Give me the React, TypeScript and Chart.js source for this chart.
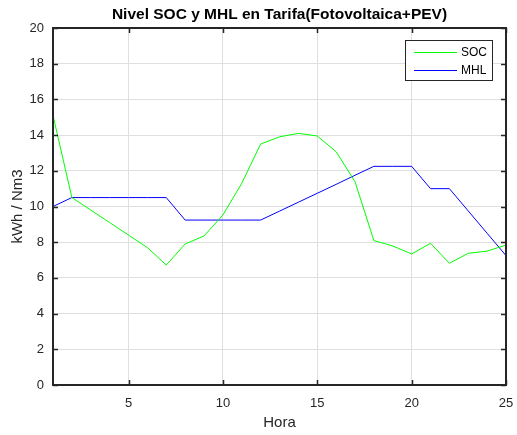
import React, { useEffect, useRef } from "react";
import { Chart, registerables } from "chart.js";

Chart.register(...registerables);

const titleText = "Nivel SOC y MHL en Tarifa(Fotovoltaica+PEV)";
const xLabel = "Hora";
const yLabel = "kWh / Nm3";
const hours = [1, 2, 3, 4, 5, 6, 7, 8, 9, 10, 11, 12, 13, 14, 15, 16, 17, 18, 19, 20, 21, 22, 23, 24, 25];
const socValues = [15.1, 10.5, 9.8, 9.1, 8.4, 7.7, 6.72, 7.9, 8.35, 9.52, 11.3, 13.5, 13.9, 14.1, 13.95, 13.07, 11.39, 8.09, 7.79, 7.34, 7.94, 6.82, 7.38, 7.5, 7.84];
const mhlValues = [10.0, 10.5, 10.5, 10.5, 10.5, 10.5, 10.5, 9.24, 9.24, 9.24, 9.24, 9.24, 9.74, 10.24, 10.74, 11.24, 11.75, 12.25, 12.25, 12.25, 11.0, 11.0, 9.75, 8.5, 7.25];
const xTicks = [5, 10, 15, 20, 25];
const seriesNames = ["SOC", "MHL"];
const seriesColors = ["#00ff00", "#0000ff"];

const FONT = "'Liberation Sans', Arial, Helvetica, sans-serif";
const AXIS = "#262626";

const decorPlugin = {
  id: "decor",
  afterDatasetsDraw(chart: any) {
    const { ctx, chartArea: a, scales } = chart;
    const xs = scales.x;
    const ys = scales.y;
    ctx.save();
    ctx.strokeStyle = AXIS;
    ctx.lineWidth = 2;
    ctx.strokeRect(a.left, a.top, a.right - a.left, a.bottom - a.top);
    ctx.lineWidth = 1.5;
    const tl = 5;
    ctx.beginPath();
    for (const t of xTicks) {
      const px = Math.round(xs.getPixelForValue(t)) + 0.5;
      ctx.moveTo(px, a.bottom);
      ctx.lineTo(px, a.bottom - tl);
      ctx.moveTo(px, a.top);
      ctx.lineTo(px, a.top + tl);
    }
    for (let v = 0; v <= 20; v += 2) {
      const py = Math.round(ys.getPixelForValue(v)) + 0.5;
      ctx.moveTo(a.left, py);
      ctx.lineTo(a.left + tl, py);
      ctx.moveTo(a.right, py);
      ctx.lineTo(a.right - tl, py);
    }
    ctx.stroke();

    ctx.fillStyle = "#000";
    ctx.font = `bold 15.5px ${FONT}`;
    ctx.textAlign = "center";
    ctx.textBaseline = "middle";
    ctx.fillText(titleText, (a.left + a.right) / 2, 15);

    ctx.fillStyle = AXIS;
    ctx.font = `15px ${FONT}`;
    ctx.fillText(xLabel, (a.left + a.right) / 2, 423);

    ctx.save();
    ctx.translate(18, (a.top + a.bottom) / 2);
    ctx.rotate(-Math.PI / 2);
    ctx.fillText(yLabel, 0, 0);
    ctx.restore();

    const lx = 405.5, ly = 40.5, lw = 87, lh = 40;
    ctx.fillStyle = "#fff";
    ctx.fillRect(lx, ly, lw, lh);
    ctx.strokeStyle = "#262626";
    ctx.lineWidth = 1;
    ctx.strokeRect(lx, ly, lw, lh);
    const rows = [52, 70];
    ctx.font = `12px ${FONT}`;
    ctx.textAlign = "left";
    ctx.textBaseline = "middle";
    seriesNames.forEach((name, i) => {
      ctx.strokeStyle = seriesColors[i];
      ctx.lineWidth = 1;
      ctx.beginPath();
      ctx.moveTo(414, rows[i] + 0.5);
      ctx.lineTo(457, rows[i] + 0.5);
      ctx.stroke();
      ctx.fillStyle = "#000";
      ctx.fillText(name, 461, rows[i] + 1);
    });
    ctx.restore();
  },
};

export default function App() {
  const ref = useRef<HTMLCanvasElement>(null);
  useEffect(() => {
    if (!ref.current) return;
    const chart = new Chart(ref.current, {
      type: "line",
      data: {
        datasets: [
          {
            label: seriesNames[0],
            data: hours.map((h, i) => ({ x: h, y: socValues[i] })),
            borderColor: seriesColors[0],
            backgroundColor: seriesColors[0],
            borderWidth: 1,
            pointRadius: 0,
            tension: 0,
          },
          {
            label: seriesNames[1],
            data: hours.map((h, i) => ({ x: h, y: mhlValues[i] })),
            borderColor: seriesColors[1],
            backgroundColor: seriesColors[1],
            borderWidth: 1,
            pointRadius: 0,
            tension: 0,
          },
        ],
      },
      options: {
        responsive: false,
        animation: false,
        layout: { padding: { left: 0, right: 11, top: 28, bottom: 0 } },
        plugins: { legend: { display: false }, title: { display: false }, tooltip: { enabled: false } },
        scales: {
          x: {
            type: "linear",
            min: 1,
            max: 25,
            afterBuildTicks: (s: any) => {
              s.ticks = xTicks.map((v) => ({ value: v }));
            },
            afterFit: (s: any) => {
              s.height = 50;
              s.paddingLeft = 0;
              s.paddingRight = 0;
            },
            grid: { color: "#dfdfdf", lineWidth: 1, drawTicks: false },
            border: { display: false },
            ticks: { color: AXIS, font: { family: FONT, size: 13 }, padding: 11, maxRotation: 0 },
          },
          y: {
            type: "linear",
            min: 0,
            max: 20,
            afterFit: (s: any) => {
              s.width = 53;
              s.paddingTop = 0;
              s.paddingBottom = 0;
            },
            grid: { color: "#dfdfdf", lineWidth: 1, drawTicks: false },
            border: { display: false },
            ticks: { stepSize: 2, color: AXIS, font: { family: FONT, size: 13 }, padding: 9 },
          },
        },
      },
      plugins: [decorPlugin],
    } as any);
    return () => chart.destroy();
  }, []);
  return (
    <div style={{ position: "absolute", left: 0, top: 0, width: 517, height: 435, background: "#fff" }}>
      <canvas ref={ref} width={517} height={435} />
    </div>
  );
}
